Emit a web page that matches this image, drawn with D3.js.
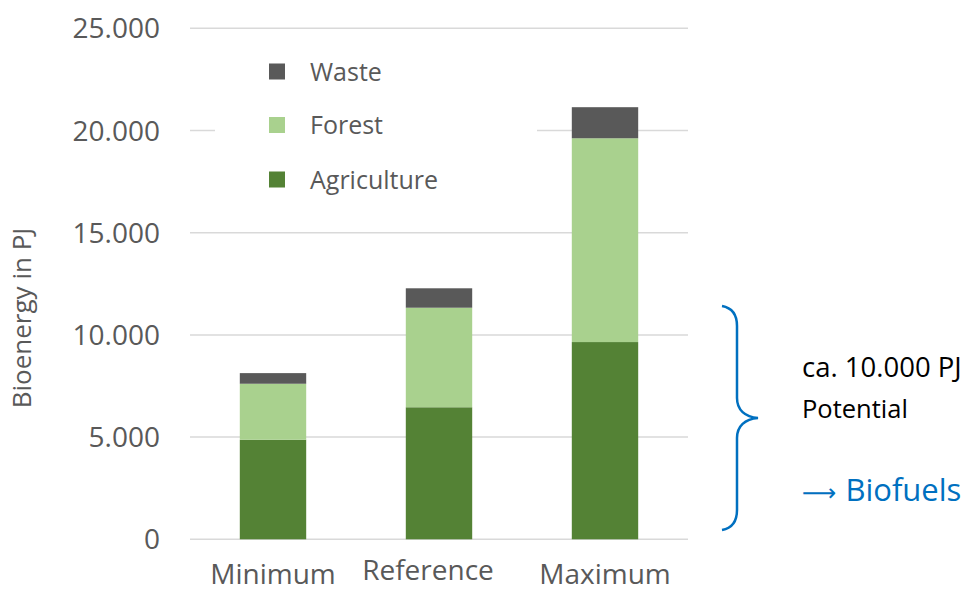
<!DOCTYPE html>
<html>
<head>
<meta charset="utf-8">
<script src="https://cdn.jsdelivr.net/npm/d3@7"></script>
<style>
  body { margin: 0; background: #fff; }
  svg { font-family: "Open Sans", sans-serif; }
</style>
</head>
<body>
<svg width="972" height="592"></svg>
<script>
var categories = ["Minimum", "Reference", "Maximum"];
var agriculture = [4870, 6460, 9650];
var forest = [2740, 4870, 9970];
var waste = [520, 950, 1520];
var yTicks = [0, 5000, 10000, 15000, 20000, 25000];

var seriesNames = ["Agriculture", "Forest", "Waste"];
var colors = { Agriculture: "#548235", Forest: "#a9d18e", Waste: "#595959" };

var svg = d3.select("svg");

var x = d3.scaleBand()
    .domain(categories)
    .range([190, 688])
    .paddingInner(0.6)
    .paddingOuter(0.3);

var y = d3.scaleLinear()
    .domain([0, 25000])
    .range([539.3, 28.3]);

var rows = categories.map(function (c, i) {
    return { cat: c, Agriculture: agriculture[i], Forest: forest[i], Waste: waste[i] };
});
var stacked = d3.stack().keys(seriesNames)(rows);

// gridlines
svg.append("g")
    .selectAll("line")
    .data(yTicks)
    .enter().append("line")
    .attr("x1", 190)
    .attr("x2", 688)
    .attr("y1", function (d) { return y(d); })
    .attr("y2", function (d) { return y(d); })
    .attr("stroke", "#d9d9d9")
    .attr("stroke-width", 1.5);

// y tick labels
var fmt = function (d) { return d === 0 ? "0" : d3.format(",")(d).replace(/,/g, "."); };
svg.append("g")
    .selectAll("text")
    .data(yTicks)
    .enter().append("text")
    .attr("x", 160)
    .attr("y", function (d) { return y(d) + 10; })
    .attr("text-anchor", "end")
    .attr("fill", "#595959")
    .style("font-size", "28px")
    .text(fmt);

// y axis title
svg.append("text")
    .attr("transform", "translate(31,318) rotate(-90)")
    .attr("text-anchor", "middle")
    .attr("fill", "#595959")
    .style("font-size", "26px")
    .text("Bioenergy in PJ");

// bars
svg.append("g")
    .selectAll("g")
    .data(stacked)
    .enter().append("g")
    .attr("fill", function (d) { return colors[d.key]; })
    .selectAll("rect")
    .data(function (d) { return d; })
    .enter().append("rect")
    .attr("x", function (d) { return x(d.data.cat); })
    .attr("width", x.bandwidth())
    .attr("y", function (d) { return y(d[1]); })
    .attr("height", function (d) { return y(d[0]) - y(d[1]); });

// category labels (Reference label sits a little higher/left in the original)
svg.append("g")
    .selectAll("text")
    .data(categories)
    .enter().append("text")
    .attr("x", function (d) { return x(d) + x.bandwidth() / 2 + (d === "Reference" ? -11 : 0); })
    .attr("y", function (d) { return d === "Reference" ? 580 : 584; })
    .attr("text-anchor", "middle")
    .attr("fill", "#595959")
    .style("font-size", "28px")
    .text(function (d) { return d; });

// legend
var legend = svg.append("g");
legend.append("rect")
    .attr("x", 215).attr("y", 45)
    .attr("width", 322).attr("height", 155)
    .attr("fill", "#fff");
var legendItems = ["Waste", "Forest", "Agriculture"];
var legendY = [71.5, 125, 179.5];
var li = legend.selectAll("g.item")
    .data(legendItems)
    .enter().append("g")
    .attr("class", "item")
    .attr("transform", function (d, i) { return "translate(0," + legendY[i] + ")"; });
li.append("rect")
    .attr("x", 269).attr("y", -8)
    .attr("width", 16).attr("height", 16)
    .attr("fill", function (d) { return colors[d]; });
li.append("text")
    .attr("x", 310)
    .attr("y", 9)
    .attr("fill", "#595959")
    .style("font-size", "25px")
    .text(function (d) { return d; });

// brace annotation
var p = d3.path();
p.moveTo(722, 306);
p.bezierCurveTo(733, 308, 737, 316, 737, 326);
p.lineTo(737, 398);
p.bezierCurveTo(737, 410, 745, 417, 758, 418);
p.bezierCurveTo(745, 419, 737, 426, 737, 438);
p.lineTo(737, 510);
p.bezierCurveTo(737, 520, 733, 528, 722, 530);
svg.append("path")
    .attr("d", p.toString())
    .attr("fill", "none")
    .attr("stroke", "#0070c0")
    .attr("stroke-width", 2.5);

svg.append("text")
    .attr("x", 802).attr("y", 377)
    .attr("fill", "#000")
    .style("font-size", "27.5px")
    .text("ca. 10.000 PJ");
svg.append("text")
    .attr("x", 802).attr("y", 418)
    .attr("fill", "#000")
    .style("font-size", "25.5px")
    .text("Potential");
var bio = svg.append("text")
    .attr("x", 802).attr("y", 501)
    .attr("fill", "#0070c0")
    .style("font-size", "31px");
bio.append("tspan")
    .style("font-family", "DejaVu Sans")
    .style("font-size", "24px")
    .text("\u27f6");
bio.append("tspan")
    .attr("dx", 9)
    .text("Biofuels");
</script>
</body>
</html>
